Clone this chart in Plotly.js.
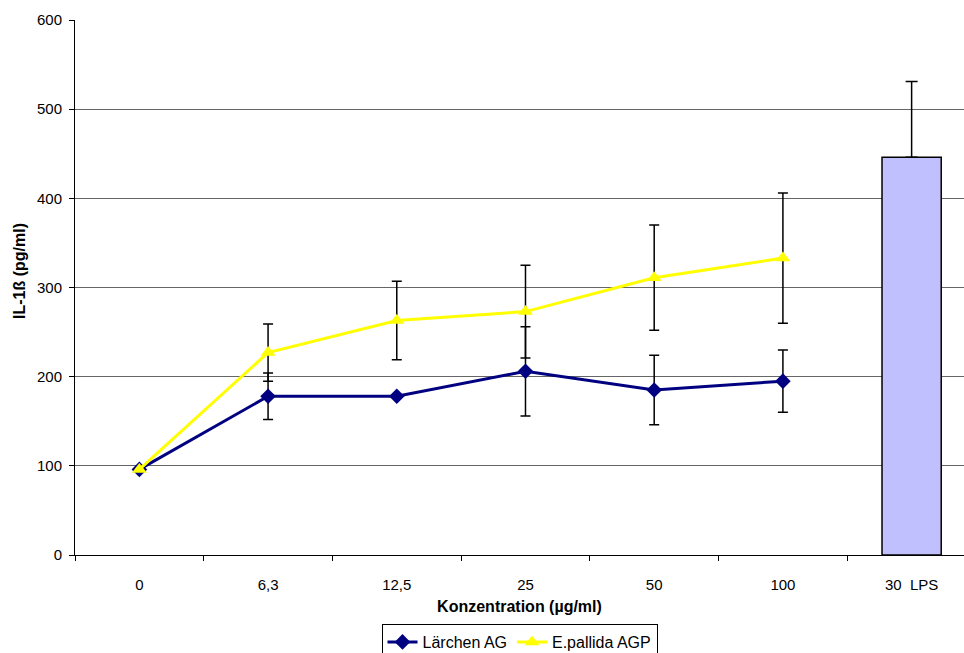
<!DOCTYPE html>
<html>
<head>
<meta charset="utf-8">
<script src="https://cdn.plot.ly/plotly-3.0.1.min.js"></script>
<style>html,body{margin:0;padding:0;background:#fff;}#chart{width:964px;height:653px;}</style>
</head>
<body>
<div id="chart"></div>
<script>
var categories = ["0", "6,3", "12,5", "25", "50", "100", "30 LPS"];
var tickLabels = ["0", "6,3", "12,5", "25", "50", "100", "30\u00a0\u00a0LPS"];
var lineCats = ["0", "6,3", "12,5", "25", "50", "100"];
var laerchen = [96, 178, 178, 206, 185, 195];
var laerchenErr = [null, 26, null, 50, 39, 35];
var pallida = [96, 227, 263, 273, 311, 333];
var pallidaErr = [null, 32, 44, 52, 59, 73];
var lpsCat = ["30 LPS"];
var lpsValue = [446];
var lpsErr = [85];

var font = "Liberation Sans, Arial, sans-serif";

var traces = [
  {
    type: "bar", x: lpsCat, y: lpsValue, width: 0.46, showlegend: false,
    marker: {color: "#C0C0FF", line: {color: "#000", width: 1.5}},
    error_y: {type: "data", symmetric: false, array: lpsErr, arrayminus: [0], color: "#000", thickness: 1.5, width: 6}
  },
  {
    type: "scatter", mode: "lines+markers", name: "Lärchen AG", x: lineCats, y: laerchen,
    line: {color: "#000080", width: 3},
    marker: {symbol: "diamond", size: 12, color: "#000080"},
    error_y: {type: "data", array: laerchenErr, color: "#000", thickness: 1.5, width: 5}
  },
  {
    type: "scatter", mode: "lines+markers", name: "E.pallida AGP", x: lineCats, y: pallida,
    line: {color: "#FFFF00", width: 3},
    marker: {symbol: "triangle-up", size: 13, color: "#FFFF00"},
    error_y: {type: "data", array: pallidaErr, color: "#000", thickness: 1.5, width: 5}
  }
];

var layout = {
  width: 964, height: 653,
  margin: {l: 75, r: 0, t: 20, b: 98, autoexpand: false},
  paper_bgcolor: "#fff", plot_bgcolor: "#fff",
  font: {family: font, size: 15, color: "#000"},
  showlegend: true,
  legend: {
    orientation: "h", x: 0.5, xanchor: "center", y: -(624 - 555) / 535, yanchor: "top",
    bordercolor: "#000", borderwidth: 1, font: {family: font, size: 16, color: "#000"},
    traceorder: "normal", tracegroupgap: 0
  },
  xaxis: {
    type: "category", categoryorder: "array", categoryarray: categories,
    tickvals: categories, ticktext: tickLabels,
    range: [-0.5, 6.407],
    tickson: "boundaries", ticks: "outside", ticklen: 5, tickcolor: "#000", tickwidth: 1,
    showline: true, linecolor: "#000", linewidth: 1, showgrid: false, zeroline: false,
    ticklabelstandoff: 16,
    tickfont: {family: font, size: 15, color: "#000"},
    title: {text: "<b>Konzentration (µg/ml)</b>", font: {family: font, size: 16, color: "#000"}, standoff: 8}
  },
  yaxis: {
    range: [0, 600], tickvals: [0, 100, 200, 300, 400, 500, 600],
    ticks: "outside", ticklen: 5, tickcolor: "#000", tickwidth: 1,
    showline: true, linecolor: "#000", linewidth: 1,
    showgrid: true, gridcolor: "#666", gridwidth: 1, zeroline: false,
    ticklabelstandoff: 4,
    tickfont: {family: font, size: 15, color: "#000"}
  },
  annotations: [{
    text: "<b>IL-1ß (pg/ml)</b>", textangle: -90, showarrow: false,
    xref: "paper", yref: "paper", x: -56 / 889, y: (555 - 271) / 535,
    xanchor: "center", yanchor: "middle",
    font: {family: font, size: 16, color: "#000"}
  }]
};

Plotly.newPlot("chart", traces, layout, {displayModeBar: false, staticPlot: true});
</script>
</body>
</html>
